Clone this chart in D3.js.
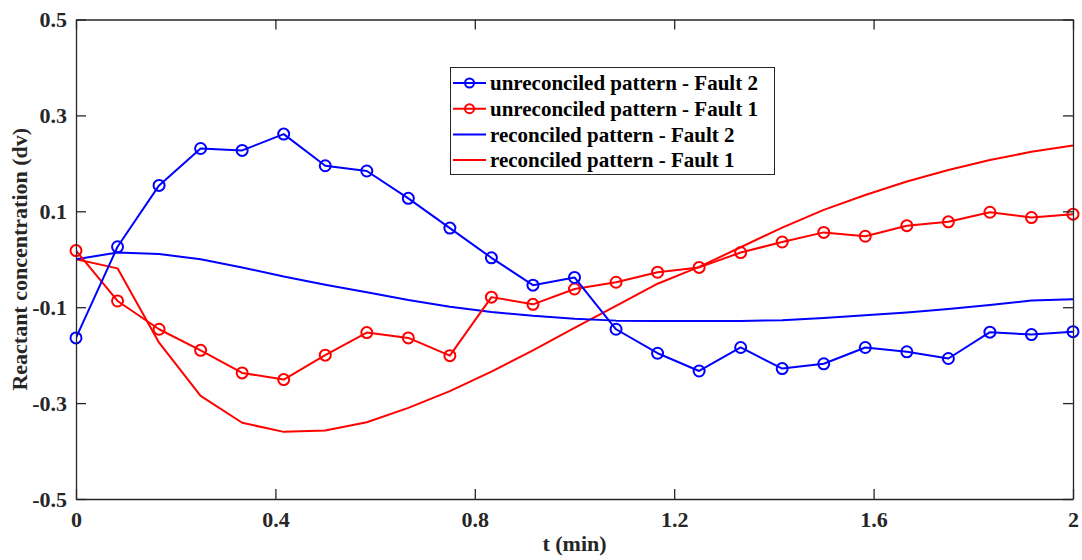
<!DOCTYPE html>
<html><head><meta charset="utf-8">
<script src="https://cdn.jsdelivr.net/npm/d3@7"></script>
<style>body{margin:0;background:#fff}svg{display:block}</style>
</head><body>
<svg id="c" width="1082" height="560"></svg>
<script>
const tValues = d3.range(25).map(k => k / 12);
const unreconciledFault2 = [-0.164,0.026,0.154,0.231,0.227,0.261,0.195,0.184,0.127,0.065,0.003,-0.054,-0.038,-0.146,-0.196,-0.233,-0.184,-0.228,-0.218,-0.184,-0.193,-0.207,-0.152,-0.157,-0.151];
const unreconciledFault1 = [0.018,-0.087,-0.146,-0.190,-0.237,-0.251,-0.200,-0.153,-0.164,-0.201,-0.079,-0.094,-0.062,-0.048,-0.027,-0.017,0.014,0.036,0.056,0.048,0.070,0.078,0.098,0.087,0.094];
const reconciledFault2 = [0.0,0.014,0.011,0.0,-0.017,-0.036,-0.053,-0.069,-0.085,-0.099,-0.110,-0.118,-0.124,-0.128,-0.129,-0.129,-0.129,-0.127,-0.1225,-0.117,-0.111,-0.104,-0.0955,-0.086,-0.0835];
const reconciledFault1 = [0.0,-0.019,-0.174,-0.285,-0.341,-0.360,-0.357,-0.340,-0.310,-0.275,-0.2345,-0.190,-0.143,-0.097,-0.051,-0.016,0.025,0.066,0.103,0.134,0.162,0.186,0.207,0.224,0.237];
const xTicks = [0, 0.4, 0.8, 1.2, 1.6, 2];
const xTickLabels = ["0", "0.4", "0.8", "1.2", "1.6", "2"];
const yTicks = [-0.5, -0.3, -0.1, 0.1, 0.3, 0.5];
const yTickLabels = ["-0.5", "-0.3", "-0.1", "0.1", "0.3", "0.5"];
const legendLabels = ["unreconciled pattern - Fault 2","unreconciled pattern - Fault 1","reconciled pattern - Fault 2","reconciled pattern - Fault 1"];

const series = [
  {name: legendLabels[0], values: unreconciledFault2, color: "#0000ff", marker: true},
  {name: legendLabels[1], values: unreconciledFault1, color: "#ff0000", marker: true},
  {name: legendLabels[2], values: reconciledFault2, color: "#0000ff", marker: false},
  {name: legendLabels[3], values: reconciledFault1, color: "#ff0000", marker: false}
];

const L = 76, R = 1073, T = 19.5, B = 499;
const svg = d3.select("#c");
const x = d3.scaleLinear().domain([0, 2]).range([L, R]);
const y = d3.scaleLinear().domain([-0.5, 0.5]).range([B, T]);
const font = "Liberation Serif";
const axisColor = "#262626";

svg.append("defs").append("clipPath").attr("id","clip")
  .append("rect").attr("x",L).attr("y",T).attr("width",R-L).attr("height",B-T);

const g = svg.append("g").attr("clip-path","url(#clip)");
const line = d3.line().x((d,i)=>x(tValues[i])).y(d=>y(d));

[series[3], series[2], series[1], series[0]].forEach(s => {
  g.append("path").attr("d", line(s.values)).attr("fill","none")
    .attr("stroke", s.color).attr("stroke-width", 2).attr("stroke-linejoin","round");
});
[series[1], series[0]].forEach(s => {
  svg.append("g").selectAll("circle").data(s.values).join("circle")
    .attr("cx",(d,i)=>x(tValues[i])).attr("cy",d=>y(d)).attr("r",5.5)
    .attr("fill","none").attr("stroke",s.color).attr("stroke-width",2);
});

const tickLen = 10;
const axisBottom = d3.axisBottom(x).tickValues(xTicks).tickSizeInner(-tickLen).tickSizeOuter(0)
  .tickFormat((d,i)=>xTickLabels[i]).tickPadding(12);
const axisTop = d3.axisTop(x).tickValues(xTicks).tickSizeInner(-tickLen).tickSizeOuter(0).tickFormat("");
const axisLeft = d3.axisLeft(y).tickValues(yTicks).tickSizeInner(-tickLen).tickSizeOuter(0)
  .tickFormat((d,i)=>yTickLabels[i]).tickPadding(9);
const axisRight = d3.axisRight(y).tickValues(yTicks).tickSizeInner(-tickLen).tickSizeOuter(0).tickFormat("");

function style(sel){
  sel.attr("font-family", font).attr("font-size", 22);
  sel.selectAll("path").attr("stroke",axisColor).attr("stroke-width",1.3);
  sel.selectAll("line").attr("stroke",axisColor).attr("stroke-width",1.3);
  sel.selectAll("text").attr("fill",axisColor).style("font-family",font).style("font-weight","bold").style("font-size","22px");
}
style(svg.append("g").attr("transform",`translate(0,${B})`).call(axisBottom));
style(svg.append("g").attr("transform",`translate(0,${T})`).call(axisTop));
style(svg.append("g").attr("transform",`translate(${L},0)`).call(axisLeft));
style(svg.append("g").attr("transform",`translate(${R},0)`).call(axisRight));

svg.append("text").attr("x",(L+R)/2).attr("y",551).attr("text-anchor","middle")
  .style("font-family",font).style("font-weight","bold").style("font-size","22px").attr("fill",axisColor)
  .text("t (min)");
svg.append("text").attr("transform",`translate(27,${(T+B)/2}) rotate(-90)`).attr("text-anchor","middle")
  .style("font-family",font).style("font-weight","bold").style("font-size","22px").attr("fill",axisColor)
  .text("Reactant concentration (dv)");

const lg = svg.append("g");
lg.append("rect").attr("x",450.5).attr("y",67.5).attr("width",324).attr("height",107)
  .attr("fill","#fff").attr("stroke",axisColor).attr("stroke-width",1);
series.forEach((s,i) => {
  const cy = 83 + i*25.7;
  lg.append("line").attr("x1",453).attr("x2",486).attr("y1",cy).attr("y2",cy)
    .attr("stroke",s.color).attr("stroke-width",2);
  if (s.marker) lg.append("circle").attr("cx",469.5).attr("cy",cy).attr("r",4.5)
    .attr("fill","none").attr("stroke",s.color).attr("stroke-width",2);
  lg.append("text").attr("x",490).attr("y",cy).attr("dy","0.35em")
    .style("font-family",font).style("font-weight","bold").style("font-size","21px").attr("fill","#000")
    .text(s.name);
});
</script>
</body></html>
